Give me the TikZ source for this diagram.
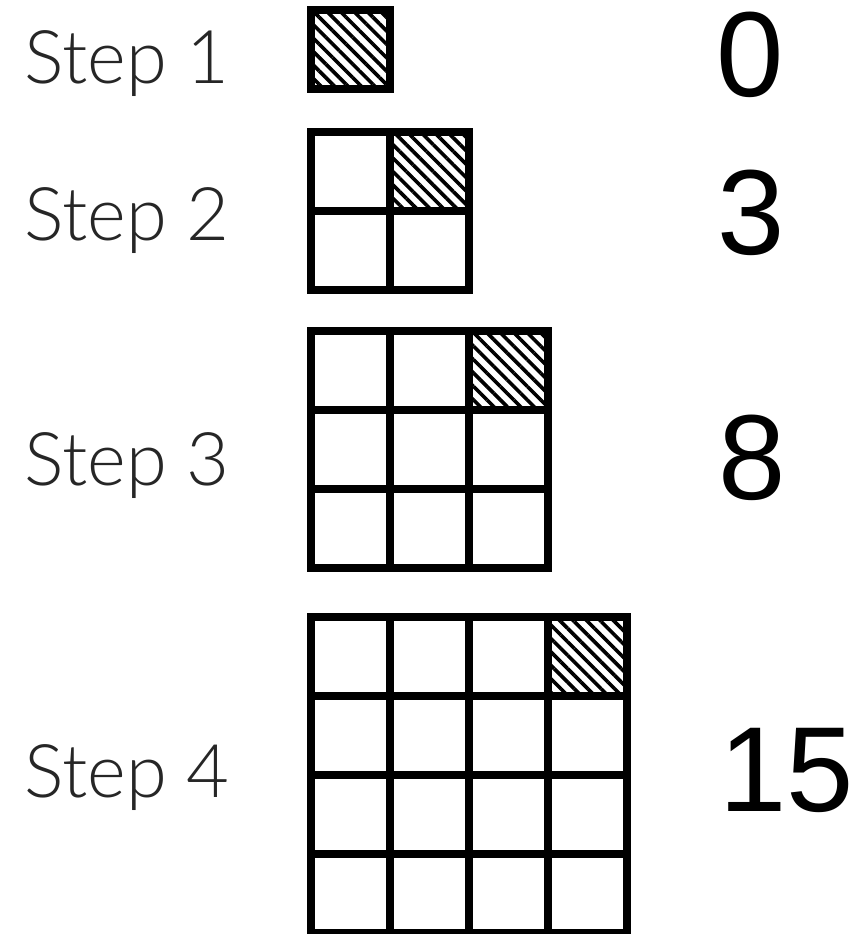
\documentclass[tikz,border=0pt]{standalone}
\usepackage{fontspec}
\usetikzlibrary{patterns.meta}
\IfFontExistsTF{Lato Light}{\newfontfamily\steplabelfont{Lato Light}}{\newfontfamily\steplabelfont{Lato}}
\newfontfamily\numfont{Liberation Sans}
\tikzset{
  gridline/.style={draw=black, line width=8pt},
  hatchcell/.style={pattern={Lines[angle=-45,distance=9.5pt,line width=3.6pt]}, pattern color=black},
  steplabel/.style={anchor=base west, inner sep=0pt, font=\steplabelfont\fontsize{74}{74}\selectfont, text=black!85},
  countlabel/.style={anchor=center, inner sep=0pt, font=\numfont\fontsize{121}{121}\selectfont},
}
% #1 = n, #2 = left x, #3 = top y (line centres), pitch 79
\newcommand\stepgrid[3]{%
  \fill[hatchcell] ({#2+(#1-1)*79},#3) rectangle ++(79,79);
  \foreach \i in {1,...,#1}{
    \foreach \j in {1,...,#1}{
      \draw[gridline] ({#2+(\i-1)*79},{#3+(\j-1)*79}) rectangle ++(79,79);
    }
  }
}
\begin{document}
\begin{tikzpicture}[x=1pt,y=-1pt]
  \useasboundingbox (0,0) rectangle (863,934);
  \stepgrid{1}{311}{10}
  \stepgrid{2}{311}{132}
  \stepgrid{3}{311}{331}
  \stepgrid{4}{311}{617}
  \node[steplabel] (s1) at (24,83) {Step 1};
  \node[steplabel] (s2) at (24,240) {Step 2};
  \node[steplabel] (s3) at (24,485) {Step 3};
  \node[steplabel] (s4) at (24,797) {Step 4};
  \node[countlabel] (n1) at (750,55) {0};
  \node[countlabel] (n2) at (751,213) {3};
  \node[countlabel] (n3) at (752,458) {8};
  \node[countlabel] (n4) at (787,770) {15};
\end{tikzpicture}
\end{document}
